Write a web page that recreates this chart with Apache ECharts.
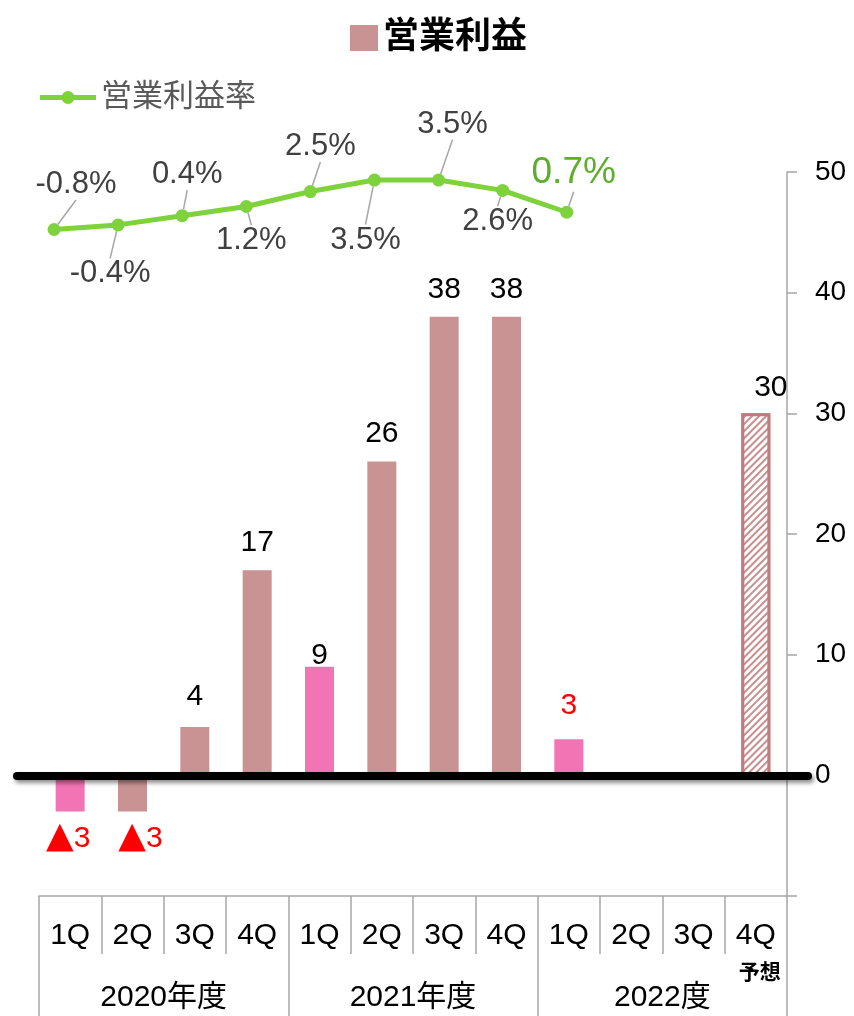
<!DOCTYPE html>
<html>
<head>
<meta charset="utf-8">
<script src="https://cdn.jsdelivr.net/npm/echarts@6/dist/echarts.min.js"></script>
<style>
html,body{margin:0;padding:0;background:#fff;}
#chart{width:854px;height:1016px;}
</style>
</head>
<body>
<div id="chart"></div>
<script>
// ---- data ----
const quarters = ['1Q','2Q','3Q','4Q','1Q','2Q','3Q','4Q','1Q','2Q','3Q','4Q'];
const quarterNotes = ['','','','','','','','','','','','予想'];
const fiscalYears = ['2020年度','2021年度','2022度'];
const operatingProfit = [-3, -3, 4, 17, 9, 26, 38, 38, 3, null, null, 30];
const operatingMargin = [-0.8, -0.4, 0.4, 1.2, 2.5, 3.5, 3.5, 2.6, 0.7, null, null, null];
const forecastIndex = 11;
const latestActualIndex = 8;
const profitAxis = {min: -10, max: 50, interval: 10};
const marginAxis = {min: -1, max: 4};

// ---- styling ----
const FONT = "'Liberation Sans', 'Noto Sans CJK JP', sans-serif";
const BROWN = '#C99393';
const PINK = '#F274B4';
const GREEN = '#7ED23C';
const GREEN_TEXT = '#5CAE2C';
const GREY_LINE = '#A6A6A6';
const labelDistance = [8, 8, 15, 12, -4, 13, 12, 12, 18, 0, 0, 11];
const labelOffset = [[-2,0],[8,0],[0,0],[0,0],[0,0],[0,0],[0,0],[0,0],[0,0],[0,0],[0,0],[15,0]];
const marginLabelShift = [[22,-45],[-8,49],[5,-41],[5,34],[10,-45],[-9,60],[14,-56],[-5,31],[7,-39]];
const LINE_LEGEND_ICON = 'path://M0,4H22V9H0Z M34,4H56V9H34Z M28,0A6.5,6.5 0 1 1 28,13A6.5,6.5 0 1 1 28,0Z';

const barData = operatingProfit.map((v, i) => {
  const item = {value: v, itemStyle: {}, label: {
    distance: labelDistance[i],
    offset: labelOffset[i],
    color: (v !== null && (v < 0 || i === latestActualIndex)) ? '#FF0000' : '#000'
  }};
  if (quarters[i] === '1Q') item.itemStyle.color = PINK;
  if (i === forecastIndex) {
    item.itemStyle = {
      color: '#ffffff',
      borderColor: '#C07C7C',
      borderWidth: 3,
      decal: {
        symbol: 'rect', symbolSize: 1, color: '#C98E8E', backgroundColor: '#ffffff',
        dashArrayX: [1, 0], dashArrayY: [2, 3], rotation: -Math.PI / 4
      }
    };
  }
  return item;
});

const lineData = operatingMargin.map((v, i) => {
  const item = {value: v};
  if (i === latestActualIndex) {
    item.label = {color: GREEN_TEXT, fontSize: 37};
  }
  return item;
});

const chart = echarts.init(document.getElementById('chart'), null, {renderer: 'canvas'});

const option = {
  backgroundColor: '#ffffff',
  animation: false,
  textStyle: {fontFamily: FONT},
  legend: [
    {
      data: ['営業利益'], left: 350, top: 20, icon: 'rect',
      itemWidth: 28, itemHeight: 26, itemGap: 0, padding: 0,
      textStyle: {fontSize: 36, fontWeight: 'bold', color: '#000', fontFamily: FONT}
    },
    {
      data: ['営業利益率'], left: 40, top: 82, padding: 0,
      icon: LINE_LEGEND_ICON,
      itemWidth: 56, itemHeight: 13,
      itemStyle: {color: GREEN, borderWidth: 0},
      textStyle: {fontSize: 31, color: '#595959', fontFamily: FONT}
    }
  ],
  grid: [
    {left: 39, width: 748, top: 172, height: 724, outerBoundsMode: 'none', containLabel: false},
    {left: 22, width: 769, top: 174.3, height: 57.5, outerBoundsMode: 'none', containLabel: false},
    {left: 17, width: 791, top: 172, height: 724, outerBoundsMode: 'none', containLabel: false}
  ],
  xAxis: [
    {
      type: 'category', gridIndex: 0, data: quarters, position: 'bottom',
      boundaryGap: true,
      axisLine: {show: true, onZero: false, lineStyle: {color: GREY_LINE, width: 1.5}},
      axisTick: {show: true, interval: 0, length: 58, lineStyle: {color: GREY_LINE, width: 1.5}},
      axisLabel: {
        interval: 0, margin: 25, fontSize: 30, color: '#000', fontFamily: FONT,
        verticalAlign: 'top',
        formatter: (val, idx) => quarterNotes[idx] ? val + '\n{s|' + quarterNotes[idx] + '}' : val,
        rich: {s: {fontSize: 21, fontWeight: 'bold', lineHeight: 44, color: '#000', padding: [0,0,0,8], fontFamily: FONT}}
      },
      splitLine: {show: false}
    },
    {
      type: 'category', gridIndex: 0, data: fiscalYears, position: 'bottom',
      boundaryGap: true,
      axisLine: {show: false, onZero: false},
      axisTick: {show: true, interval: 0, length: 120, lineStyle: {color: GREY_LINE, width: 1.5}},
      axisLabel: {interval: 0, margin: 87, fontSize: 30, color: '#000', fontFamily: FONT, verticalAlign: 'top'},
      splitLine: {show: false}
    },
    {
      type: 'category', gridIndex: 1, data: quarters, show: false, boundaryGap: true
    },
    {
      type: 'category', gridIndex: 2, data: quarters, z: 20,
      axisLine: {show: true, onZero: true, lineStyle: {color: '#000', width: 8,
        shadowColor: 'rgba(0,0,0,0.45)', shadowBlur: 4, shadowOffsetX: 2, shadowOffsetY: 3}},
      axisTick: {show: false}, axisLabel: {show: false}, splitLine: {show: false}
    }
  ],
  yAxis: [
    {
      type: 'value', gridIndex: 0, position: 'right',
      min: profitAxis.min, max: profitAxis.max, interval: profitAxis.interval,
      axisLine: {show: true, onZero: false, lineStyle: {color: GREY_LINE, width: 1.5}},
      axisTick: {show: true, inside: false, length: 10, lineStyle: {color: GREY_LINE, width: 1.5}},
      axisLabel: {
        margin: 28, fontSize: 28, color: '#000', fontFamily: FONT,
        formatter: v => (v < 0 ? '' : String(v))
      },
      splitLine: {show: false}
    },
    {
      type: 'value', gridIndex: 1, show: false, min: marginAxis.min, max: marginAxis.max
    },
    {
      type: 'value', gridIndex: 2, show: false,
      min: profitAxis.min, max: profitAxis.max, interval: profitAxis.interval
    }
  ],
  series: [
    {
      name: '営業利益', type: 'bar', xAxisIndex: 0, yAxisIndex: 0,
      barWidth: 29, data: barData,
      itemStyle: {color: BROWN},
      label: {
        show: true, position: 'outside', fontSize: 30, fontFamily: FONT,
        formatter: p => (p.value === null || p.value === undefined) ? '' :
          (p.value < 0 ? '{t|▲}' + Math.abs(p.value) : String(p.value)),
        rich: {t: {fontSize: 36, color: '#FF0000', fontFamily: "'DejaVu Sans', sans-serif", padding: [0, 0, 2, 0]}}
      },
      z: 2
    },
    {
      name: '営業利益率', type: 'line', xAxisIndex: 2, yAxisIndex: 1,
      data: lineData, connectNulls: false,
      symbol: 'circle', symbolSize: 13,
      lineStyle: {color: GREEN, width: 5},
      itemStyle: {color: GREEN},
      label: {
        show: true, position: 'inside', fontSize: 31, color: '#404040', fontFamily: FONT,
        formatter: p => (p.value === null || p.value === undefined) ? '' : p.value.toFixed(1) + '%'
      },
      labelLine: {show: true, lineStyle: {color: GREY_LINE, width: 1.5}},
      labelLayout: params => {
        const s = marginLabelShift[params.dataIndex];
        if (!s) return {};
        const cx = params.rect.x + params.rect.width / 2;
        const cy = params.rect.y + params.rect.height / 2;
        return {x: cx + s[0], y: cy + s[1], align: 'center', verticalAlign: 'middle'};
      },
      z: 5
    }
  ]
};

chart.setOption(option);
</script>
</body>
</html>
